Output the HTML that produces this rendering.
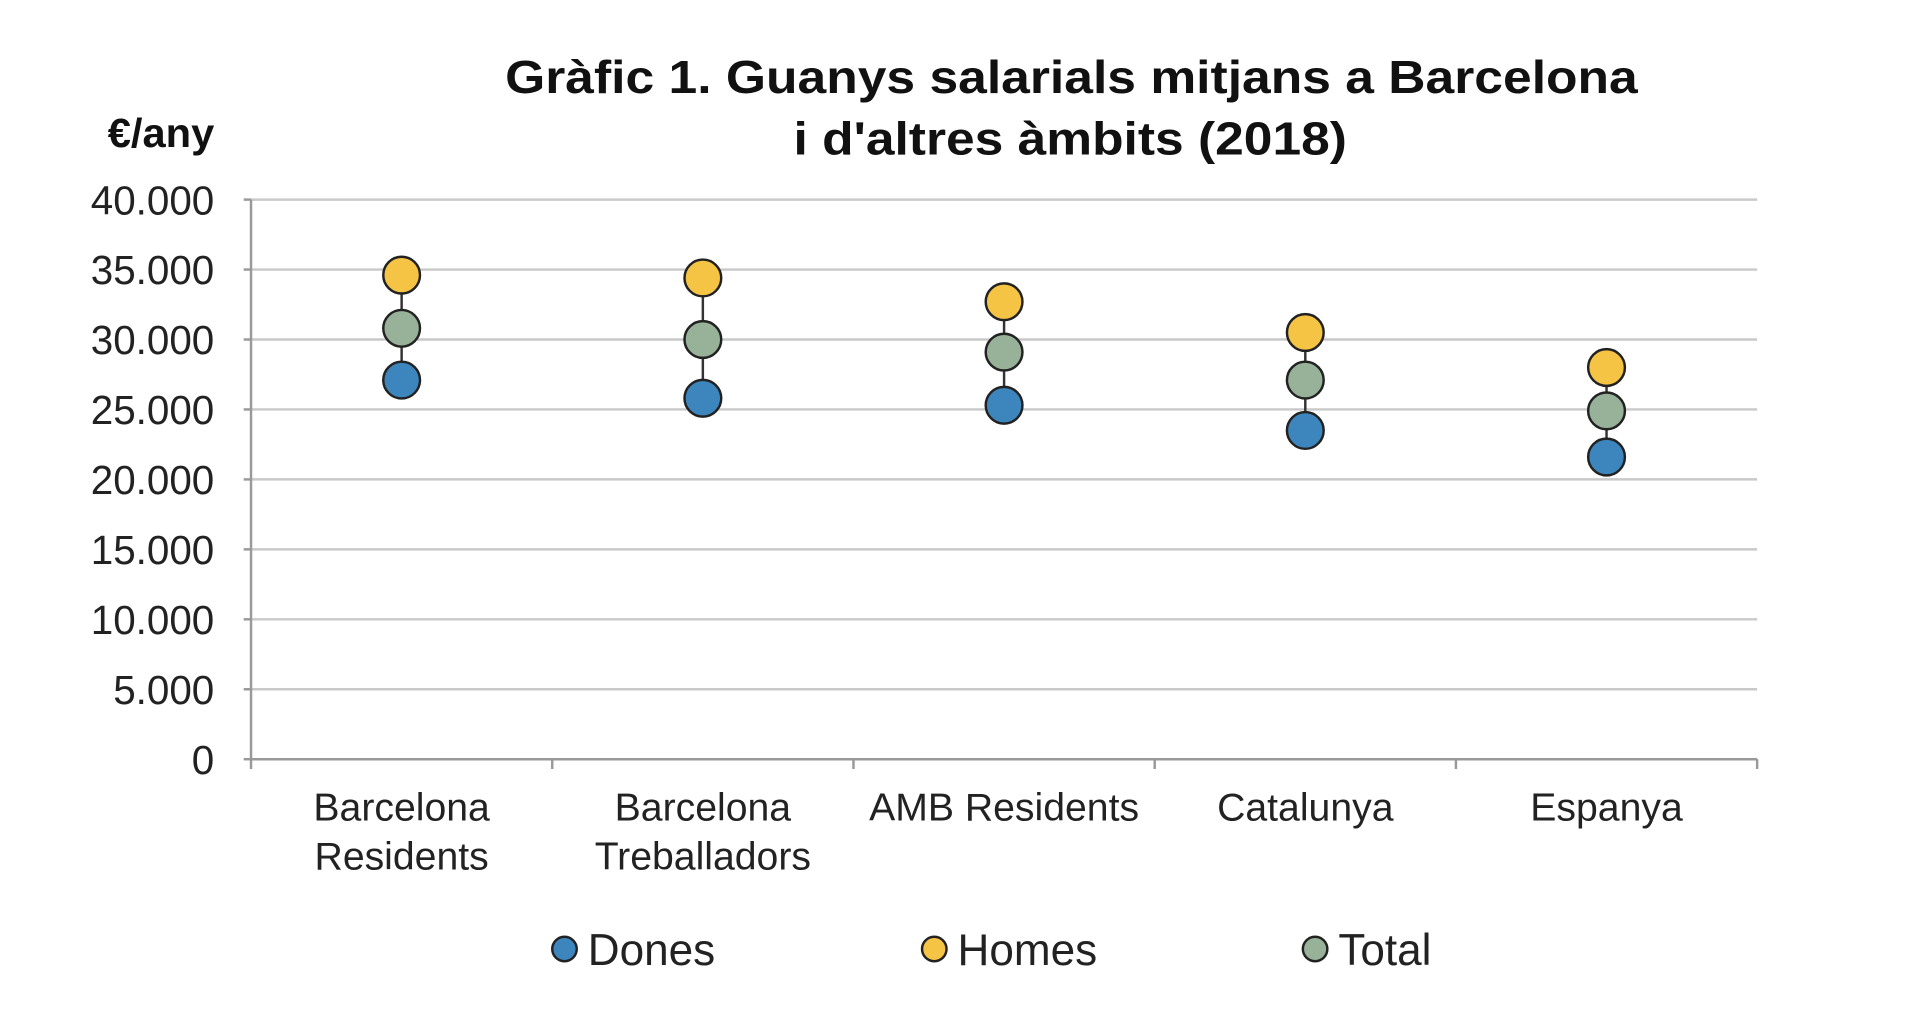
<!DOCTYPE html>
<html><head><meta charset="utf-8"><style>
html,body{margin:0;padding:0;background:#fff;}
svg{display:block;font-family:"Liberation Sans",Arial,sans-serif;}
</style></head><body>
<svg id="chart" width="1920" height="1022" viewBox="0 0 1568 834.6" preserveAspectRatio="none" xmlns="http://www.w3.org/2000/svg">
<g font-weight="bold" font-size="38" fill="#111" text-anchor="middle">
<text x="875" y="76" textLength="925" lengthAdjust="spacingAndGlyphs">Gràfic 1. Guanys salarials mitjans a Barcelona</text>
<text x="874" y="126" textLength="452" lengthAdjust="spacingAndGlyphs">i d'altres àmbits (2018)</text>
</g>
<text x="175" y="120" text-anchor="end" font-weight="bold" font-size="33" fill="#111" textLength="87" lengthAdjust="spacingAndGlyphs">€/any</text>
<g id="grid"></g>
<g id="yticks"></g>
<g id="xaxis"></g>
<g id="marks"></g>
<g id="legend"></g>
</svg>
<script>
const categories = [["Barcelona","Residents"],["Barcelona","Treballadors"],["AMB Residents"],["Catalunya"],["Espanya"]];
const dones = [27100, 25800, 25300, 23500, 21600];
const homes = [34600, 34400, 32700, 30500, 28000];
const total = [30800, 30000, 29100, 27100, 24900];
const yTicks = [0,5000,10000,15000,20000,25000,30000,35000,40000];
const yTickLabels = ["0","5.000","10.000","15.000","20.000","25.000","30.000","35.000","40.000"];
const seriesNames = ["Dones","Homes","Total"];
const seriesColors = ["#3d86bd","#f6c445","#97b299"];

const NS="http://www.w3.org/2000/svg";
const X0=205, X1=1435, Y0=620, Y1=163, YMAX=40000;
const band=(X1-X0)/categories.length;
const y=v=>Y0-(v/YMAX)*(Y0-Y1);
const xc=i=>X0+band*(i+0.5);
function mk(tag,attrs,parent){const e=document.createElementNS(NS,tag);for(const k in attrs)e.setAttribute(k,attrs[k]);parent.appendChild(e);return e;}
const grid=document.getElementById('grid'),yt=document.getElementById('yticks'),xa=document.getElementById('xaxis'),marks=document.getElementById('marks'),leg=document.getElementById('legend');
yTicks.forEach((t,i)=>{
  if(t>0){const l=mk('line',{x1:X0,x2:X1,y1:y(t),y2:y(t),stroke:'#c9c9c9','stroke-width':2},grid);
  
  }
  const tx=mk('text',{x:175,y:y(t)+12,'text-anchor':'end','font-size':33,fill:'#222'},yt);
  tx.textContent=yTickLabels[i];
  
  
  const tk=mk('line',{x1:X0-6,x2:X0,y1:y(t),y2:y(t),stroke:'#999','stroke-width':2},yt);
  
  
});
const ya=mk('line',{x1:X0,x2:X0,y1:Y1,y2:Y0,stroke:'#999','stroke-width':2},xa);


const xl=mk('line',{x1:X0,x2:X1,y1:Y0,y2:Y0,stroke:'#999','stroke-width':2},xa);


for(let i=0;i<=categories.length;i++){
  const tk=mk('line',{x1:X0+band*i,x2:X0+band*i,y1:Y0,y2:Y0+8,stroke:'#999','stroke-width':2},xa);
  
  
}
categories.forEach((c,i)=>{
  c.forEach((line,j)=>{
    const tx=mk('text',{x:xc(i),y:670+j*40,'text-anchor':'middle','font-size':32,fill:'#222'},xa);
    tx.textContent=line;
    
    
  });
  const ln=mk('line',{x1:xc(i),x2:xc(i),y1:y(dones[i]),y2:y(homes[i]),stroke:'#333','stroke-width':2},marks);
  
  
  [dones,homes,total].forEach((s,k)=>{
    const c0=mk('circle',{cx:xc(i),cy:y(s[i]),r:15,fill:seriesColors[k],stroke:'#222','stroke-width':2},marks);
    
    
  });
});
const legX=[461,763,1074];
seriesNames.forEach((n,k)=>{
  const c0=mk('circle',{cx:legX[k],cy:775,r:10,fill:seriesColors[k],stroke:'#222','stroke-width':2},leg);
  
  
  const tx=mk('text',{x:legX[k]+19,y:788,'font-size':36,fill:'#222'},leg);
  tx.textContent=n;
  
  
});
</script>
</body></html>
